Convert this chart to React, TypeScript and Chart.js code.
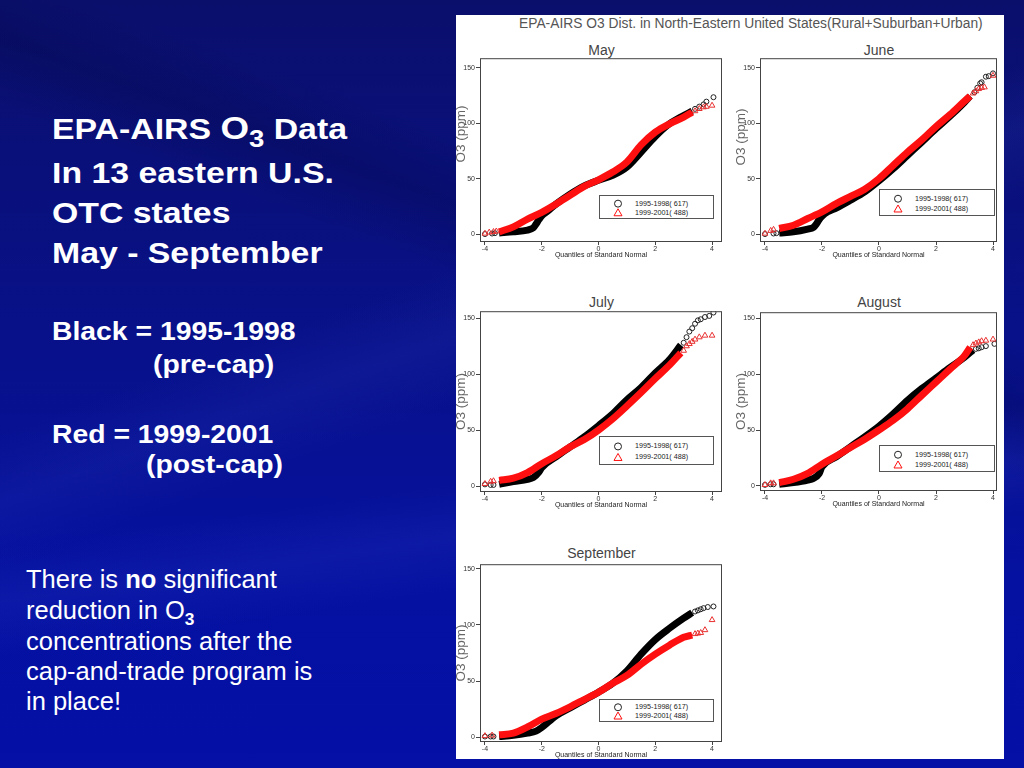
import React, { useEffect, useRef } from "react";
import { Chart, registerables } from "chart.js";

Chart.register(...registerables);

type P = [number, number];

// ---- Data (quantile of standard normal, O3 ppm) ----
const mayBlackBand: P[] = [[-3.5, 1], [-3.0, 2], [-2.5, 3.6], [-2.3, 5.5], [-2.2, 9], [-2.1, 13], [-2.0, 16.5], [-1.8, 20.5], [-1.5, 27], [-1.0, 36], [-0.5, 43.5], [0, 48.5], [0.5, 53], [1.0, 60.5], [1.5, 74], [2.0, 88], [2.5, 99.5], [3.0, 107], [3.3, 111]];
const mayBlackTail: P[] = [[-4.0, 0], [-3.75, 0.5], [-3.65, 0.8], [3.4, 113], [3.55, 115], [3.7, 117], [3.8, 119.5], [4.05, 123.5]];
const mayRedBand: P[] = [[-3.5, 2], [-3.0, 6.5], [-2.5, 13.5], [-2.0, 19.5], [-1.5, 27], [-1.0, 35], [-0.5, 43], [0, 49], [0.5, 56], [1.0, 65], [1.5, 80.5], [2.0, 92], [2.5, 99.5], [3.0, 105.5], [3.3, 110]];
const mayRedTail: P[] = [[-4.0, 0.5], [-3.85, 1.5], [-3.7, 2], [-3.6, 2.5], [3.4, 111], [3.55, 113], [3.7, 114.5], [3.8, 115], [4.0, 116]];

const juneBlackBand: P[] = [[-3.5, 1], [-3.0, 2], [-2.5, 4.5], [-2.3, 6], [-2.2, 9], [-2.1, 13], [-2.0, 16], [-1.8, 20], [-1.5, 23.5], [-1.0, 30.5], [-0.5, 38], [0, 48], [0.5, 59], [1.0, 71], [1.5, 83], [2.0, 95], [2.5, 106.5], [3.0, 119], [3.2, 124.5]];
const juneBlackTail: P[] = [[-4.0, 0], [-3.7, 0.5], [-3.6, 0.8], [3.35, 128], [3.45, 132], [3.55, 136], [3.6, 137], [3.75, 142], [3.85, 142.5], [4.0, 145]];
const juneRedBand: P[] = [[-3.5, 5], [-3.0, 8], [-2.5, 14], [-2.0, 20], [-1.5, 27.5], [-1.0, 34], [-0.5, 40.5], [0, 50], [0.5, 62], [1.0, 74], [1.5, 85], [2.0, 97], [2.5, 108], [3.0, 120], [3.2, 124.5]];
const juneRedTail: P[] = [[-4.0, 0.5], [-3.8, 3], [-3.7, 4], [3.3, 127], [3.4, 129], [3.5, 131], [3.6, 132], [3.7, 132.5], [4.0, 143]];

const julyBlackBand: P[] = [[-3.5, 1.5], [-3.0, 4], [-2.5, 6], [-2.3, 7.5], [-2.1, 12.5], [-2.0, 16.5], [-1.5, 26], [-1.0, 35], [-0.5, 44], [0, 54], [0.5, 64.5], [1.0, 77], [1.5, 88], [2.0, 101], [2.5, 113], [2.9, 126]];
const julyBlackTail: P[] = [[-4.0, 1.5], [-3.8, 1], [-3.7, 1], [3.0, 128], [3.1, 133], [3.2, 138], [3.3, 141], [3.4, 145], [3.5, 148], [3.6, 149], [3.75, 151], [3.9, 152], [4.05, 155]];
const julyRedBand: P[] = [[-3.5, 5], [-3.0, 7], [-2.5, 12], [-2.0, 20], [-1.5, 27], [-1.0, 35], [-0.5, 41.5], [0, 50], [0.5, 60], [1.0, 71.5], [1.5, 83.5], [2.0, 96], [2.5, 108], [2.9, 119]];
const julyRedTail: P[] = [[-4.0, 2], [-3.8, 4], [-3.7, 4.5], [3.0, 121], [3.1, 125], [3.2, 127], [3.3, 129], [3.4, 131], [3.55, 133], [3.75, 134.5], [4.0, 134.5]];

const augBlackBand: P[] = [[-3.5, 1.5], [-3.0, 3], [-2.5, 5.3], [-2.3, 6.8], [-2.1, 11], [-2.0, 17], [-1.5, 26], [-1.0, 35], [-0.5, 44], [0, 53.5], [0.5, 64.5], [1.0, 76.5], [1.5, 87], [2.0, 96.5], [2.5, 106], [3.0, 115], [3.3, 121.5]];
const augBlackTail: P[] = [[-4.0, 1], [-3.8, 1.5], [-3.7, 1.5], [3.4, 122.5], [3.5, 123], [3.6, 124], [3.75, 125], [4.05, 127]];
const augRedBand: P[] = [[-3.5, 3], [-3.0, 6], [-2.5, 11.3], [-2.0, 19.5], [-1.5, 26.7], [-1.0, 34.4], [-0.5, 41.8], [0, 50], [0.5, 58.7], [1.0, 69], [1.5, 81], [2.0, 92.8], [2.5, 104.6], [3.0, 116.5], [3.2, 124]];
const augRedTail: P[] = [[-4.0, 1], [-3.8, 2.5], [-3.7, 2.5], [3.3, 126], [3.4, 127.5], [3.5, 128.5], [3.6, 129.5], [3.75, 130], [4.0, 131]];

const sepBlackBand: P[] = [[-3.5, 0.5], [-3.0, 1.5], [-2.5, 3.5], [-2.2, 5.3], [-2.0, 8.5], [-1.5, 19], [-1.0, 26], [-0.5, 33], [0, 40], [0.5, 48], [1.0, 59], [1.5, 74], [2.0, 87], [2.5, 97], [3.0, 106], [3.3, 111]];
const sepBlackTail: P[] = [[-4.0, 0.5], [-3.8, 0.5], [-3.7, 0.5], [3.4, 112], [3.5, 113], [3.6, 114], [3.7, 115], [3.85, 116], [4.05, 116.5]];
const sepRedBand: P[] = [[-3.5, 2], [-3.0, 3.5], [-2.5, 9], [-2.0, 16], [-1.5, 21], [-1.0, 27], [-0.5, 33.5], [0, 40], [0.5, 48], [1.0, 55], [1.5, 65], [2.0, 74], [2.5, 82], [3.0, 89], [3.3, 91]];
const sepRedTail: P[] = [[-4.0, 1], [-3.75, 1.5], [3.4, 92], [3.5, 92.5], [3.6, 93], [3.75, 95.5], [4.0, 104.5]];

const monthTitles = ["May", "June", "July", "August", "September"];
const xTickValues = [-4, -2, 0, 2, 4];
const yTickValues = [0, 50, 100, 150];
const legendLabels = ["1995-1998( 617)", "1999-2001( 488)"];
const mainTitle = "EPA-AIRS O3 Dist. in North-Eastern United States(Rural+Suburban+Urban)";
const xAxisTitle = "Quantiles of Standard Normal";
const yAxisTitle = "O3 (ppm)";

// ---- layout / styling ----
const RED = "#ff1010";
const PLOT_FONT = "'Liberation Sans Narrow', 'Liberation Sans', Arial, sans-serif";
const SLIDE_FONT = "'Liberation Sans', Arial, Helvetica, sans-serif";

type Frame = { l: number; t: number; r: number; b: number };
type PanelCfg = {
  title: string;
  black: P[]; blackTail: P[]; red: P[]; redTail: P[];
  frame: Frame;
  xr: [number, number];
  yr: [number, number];
  titleY: number;
  yTitleShift: number;
  legend: { l: number; t: number; w: number; h: number };
};

const panels: PanelCfg[] = [
  { title: monthTitles[0], black: mayBlackBand, blackTail: mayBlackTail, red: mayRedBand, redTail: mayRedTail,
    frame: { l: 480, t: 57, r: 723, b: 242 }, xr: [-4.175, 4.35], yr: [-7.17, 158.7], titleY: 50, yTitleShift: -16,
    legend: { l: 599, t: 195, w: 115, h: 24 } },
  { title: monthTitles[1], black: juneBlackBand, blackTail: juneBlackTail, red: juneRedBand, redTail: juneRedTail,
    frame: { l: 760, t: 57, r: 998, b: 242 }, xr: [-4.175, 4.14], yr: [-7.17, 158.7], titleY: 50, yTitleShift: -13,
    legend: { l: 879, t: 189, w: 116, h: 27 } },
  { title: monthTitles[2], black: julyBlackBand, blackTail: julyBlackTail, red: julyRedBand, redTail: julyRedTail,
    frame: { l: 480, t: 310, r: 723, b: 492 }, xr: [-4.175, 4.35], yr: [-5.3, 156.2], titleY: 302, yTitleShift: 0,
    legend: { l: 599, t: 436, w: 115, h: 29 } },
  { title: monthTitles[3], black: augBlackBand, blackTail: augBlackTail, red: augRedBand, redTail: augRedTail,
    frame: { l: 760, t: 311, r: 998, b: 491 }, xr: [-4.175, 4.14], yr: [-4.5, 155.3], titleY: 302, yTitleShift: 0,
    legend: { l: 879, t: 445, w: 116, h: 27 } },
  { title: monthTitles[4], black: sepBlackBand, blackTail: sepBlackTail, red: sepRedBand, redTail: sepRedTail,
    frame: { l: 480, t: 563, r: 723, b: 742 }, xr: [-4.175, 4.35], yr: [-4.4, 154.2], titleY: 553, yTitleShift: 0,
    legend: { l: 599, t: 699, w: 115, h: 23 } },
];

const Y_AXIS_W = 26;
const X_AXIS_H = 17;
const PAD_T = 4;
const PAD_R = 4;

const framePlugin = {
  id: "frameBox",
  afterDatasetsDraw(chart: any, _args: any, opts: any) {
    const { ctx, chartArea } = chart;
    const { left, top, right, bottom } = chartArea;
    ctx.save();
    ctx.strokeStyle = "#444";
    ctx.lineWidth = 1;
    ctx.strokeRect(left + 0.5, top + 0.5, right - left - 1, bottom - top - 1);
    ctx.restore();
    // rotated y-axis title, placed like the reference
    ctx.save();
    ctx.translate(7, (top + bottom) / 2 + (opts.shift || 0));
    ctx.rotate(-Math.PI / 2);
    ctx.font = `13.5px ${SLIDE_FONT}`;
    ctx.fillStyle = "#666";
    ctx.textAlign = "center";
    ctx.textBaseline = "middle";
    ctx.fillText(opts.text, 0, 0);
    ctx.restore();
  },
};

function Panel({ cfg }: { cfg: PanelCfg }) {
  const ref = useRef<HTMLCanvasElement | null>(null);
  const { l, t, r, b } = cfg.frame;
  const cl = l - Y_AXIS_W;
  const ct = t - PAD_T;
  const cw = r - l + Y_AXIS_W + PAD_R;
  const ch = b - t + PAD_T + X_AXIS_H;

  useEffect(() => {
    if (!ref.current) return;
    const pts = (a: P[]) => a.map(([x, y]) => ({ x, y }));
    const chart = new Chart(ref.current, {
      type: "scatter",
      data: {
        datasets: [
          { label: legendLabels[1], data: pts(cfg.red), showLine: true, borderColor: RED, backgroundColor: RED,
            borderWidth: 7, pointRadius: 0, cubicInterpolationMode: "monotone", order: 0 } as any,
          { label: legendLabels[1] + " tail", data: pts(cfg.redTail), pointStyle: "triangle", pointRadius: 3.3,
            borderColor: "#e83030", backgroundColor: "rgba(0,0,0,0)", borderWidth: 1, order: 0 } as any,
          { label: legendLabels[0], data: pts(cfg.black), showLine: true, borderColor: "#000", backgroundColor: "#000",
            borderWidth: 7, pointRadius: 0, cubicInterpolationMode: "monotone", order: 1 } as any,
          { label: legendLabels[0] + " tail", data: pts(cfg.blackTail), pointStyle: "circle", pointRadius: 2.5,
            borderColor: "#222", backgroundColor: "rgba(0,0,0,0)", borderWidth: 1, order: 1 } as any,
        ],
      },
      options: {
        animation: false,
        responsive: false,
        events: [],
        layout: { padding: { top: PAD_T, right: PAD_R, left: 0, bottom: 0 } },
        plugins: {
          legend: { display: false }, tooltip: { enabled: false }, title: { display: false },
          frameBox: { text: yAxisTitle, shift: cfg.yTitleShift },
        },
        scales: {
          x: {
            type: "linear",
            min: cfg.xr[0],
            max: cfg.xr[1],
            afterBuildTicks: (s: any) => { s.ticks = xTickValues.map((v) => ({ value: v })); },
            afterFit: (s: any) => { s.height = X_AXIS_H; },
            ticks: { font: { size: 7, family: PLOT_FONT }, color: "#333", padding: 0, maxRotation: 0, autoSkip: false },
            grid: { drawOnChartArea: false, drawTicks: true, tickLength: 3, color: "#444" },
            border: { display: false },
            title: { display: true, text: xAxisTitle, font: { size: 7, family: PLOT_FONT }, color: "#222", padding: 0 },
          },
          y: {
            type: "linear",
            min: cfg.yr[0],
            max: cfg.yr[1],
            afterBuildTicks: (s: any) => { s.ticks = yTickValues.map((v) => ({ value: v })); },
            afterFit: (s: any) => { s.width = Y_AXIS_W; },
            ticks: { font: { size: 7, family: PLOT_FONT }, color: "#333", padding: 1, autoSkip: false },
            grid: { drawOnChartArea: false, drawTicks: true, tickLength: 4, color: "#444" },
            border: { display: false },
            title: { display: false, text: yAxisTitle },
          },
        },
      } as any,
      plugins: [framePlugin],
    });
    return () => chart.destroy();
  }, [cfg]);

  const lg = cfg.legend;
  const row1 = lg.t + lg.h * 0.36;
  const row2 = lg.t + lg.h * 0.74;
  const cx = (l + r) / 2;
  return (
    <>
      <div style={{ position: "absolute", left: cx - 80, width: 160, top: cfg.titleY - 9, height: 18, lineHeight: "18px",
        textAlign: "center", fontSize: 14, color: "#444", fontFamily: SLIDE_FONT }}>{cfg.title}</div>
      <canvas ref={ref} width={cw} height={ch}
        style={{ position: "absolute", left: cl, top: ct, width: cw, height: ch }} />
      <div style={{ position: "absolute", left: lg.l, top: lg.t, width: lg.w, height: lg.h, border: "1px solid #555",
        boxSizing: "border-box", background: "#fff" }} />
      <svg style={{ position: "absolute", left: lg.l, top: lg.t, overflow: "visible" }} width={lg.w} height={lg.h}>
        <circle cx={19} cy={row1 - lg.t} r={3.5} fill="none" stroke="#222" strokeWidth={1} />
        <polygon points={`19,${row2 - lg.t - 4} 15,${row2 - lg.t + 3} 23,${row2 - lg.t + 3}`} fill="none" stroke={RED} strokeWidth={1} />
      </svg>
      {legendLabels.map((s, i) => (
        <div key={s} style={{ position: "absolute", left: lg.l + 36, top: (i === 0 ? row1 : row2) - 5, height: 10, lineHeight: "10px",
          fontSize: 7.2, color: "#222", fontFamily: PLOT_FONT, whiteSpace: "nowrap" }}>{s}</div>
      ))}
    </>
  );
}

function Line({ x, baseline, size, bold, sx, children }: any) {
  return (
    <div style={{ position: "absolute", left: x, top: baseline - 0.8465 * size, fontSize: size, lineHeight: `${size}px`,
      fontWeight: bold ? 700 : 400, whiteSpace: "nowrap", transform: `scaleX(${sx || 1})`, transformOrigin: "0 50%" }}>
      {children}
    </div>
  );
}

export default function App() {
  return (
    <div style={{
      position: "absolute", left: 0, top: 0, width: 1024, height: 768, overflow: "hidden",
      fontFamily: SLIDE_FONT, color: "#fff",
      background: [
        "linear-gradient(160deg, rgba(255,255,255,0) 38%, rgba(70,90,220,0.10) 44%, rgba(255,255,255,0) 50%)",
        "linear-gradient(200deg, rgba(0,0,40,0) 30%, rgba(0,0,40,0.18) 36%, rgba(0,0,40,0) 42%)",
        "linear-gradient(172deg, rgba(0,0,0,0) 60%, rgba(80,100,230,0.10) 66%, rgba(0,0,0,0) 72%)",
        "linear-gradient(180deg, #0a0f6c 0%, #08118a 45%, #0511a0 75%, #0410a6 100%)",
      ].join(", "),
    }}>
      {/* left text block */}
      <Line x={52} baseline={139} size={29.5} bold sx={1.146}>
        EPA-AIRS{" "}
        <span style={{ fontSize: 32, lineHeight: 0 }}>O</span>
        <span style={{ fontSize: 24, lineHeight: 0, position: "relative", top: 8 }}>3</span>{" "}Data
      </Line>
      <Line x={52} baseline={183} size={29.5} bold sx={1.146}>In 13 eastern U.S.</Line>
      <Line x={52} baseline={223} size={29.5} bold sx={1.146}>OTC states</Line>
      <Line x={52} baseline={263} size={29.5} bold sx={1.146}>May - September</Line>

      <Line x={52} baseline={340} size={26} bold sx={1.09}>Black = 1995-1998</Line>
      <Line x={153} baseline={373} size={26} bold sx={1.09}>(pre-cap)</Line>
      <Line x={52} baseline={443} size={26} bold sx={1.09}>Red = 1999-2001</Line>
      <Line x={146} baseline={473.5} size={26} bold sx={1.09}>(post-cap)</Line>

      <Line x={26} baseline={588} size={25} sx={1.02}>There is <b>no</b> significant</Line>
      <Line x={26} baseline={619} size={25} sx={1.02}>
        reduction in O<span style={{ fontSize: 17, fontWeight: 700, lineHeight: 0, position: "relative", top: 6 }}>3</span>
      </Line>
      <Line x={26} baseline={650} size={25} sx={1.02}>concentrations after the</Line>
      <Line x={26} baseline={680} size={25} sx={1.02}>cap-and-trade program is</Line>
      <Line x={26} baseline={710} size={25} sx={1.02}>in place!</Line>

      {/* white figure panel */}
      <div style={{ position: "absolute", left: 456, top: 15, width: 548, height: 744, background: "#fff" }} />
      <div style={{ position: "absolute", left: 519, top: 15, height: 18, lineHeight: "18px", fontSize: 13.8, color: "#555",
        fontFamily: SLIDE_FONT, whiteSpace: "nowrap" }}>{mainTitle}</div>
      {panels.map((p) => <Panel key={p.title} cfg={p} />)}
    </div>
  );
}
